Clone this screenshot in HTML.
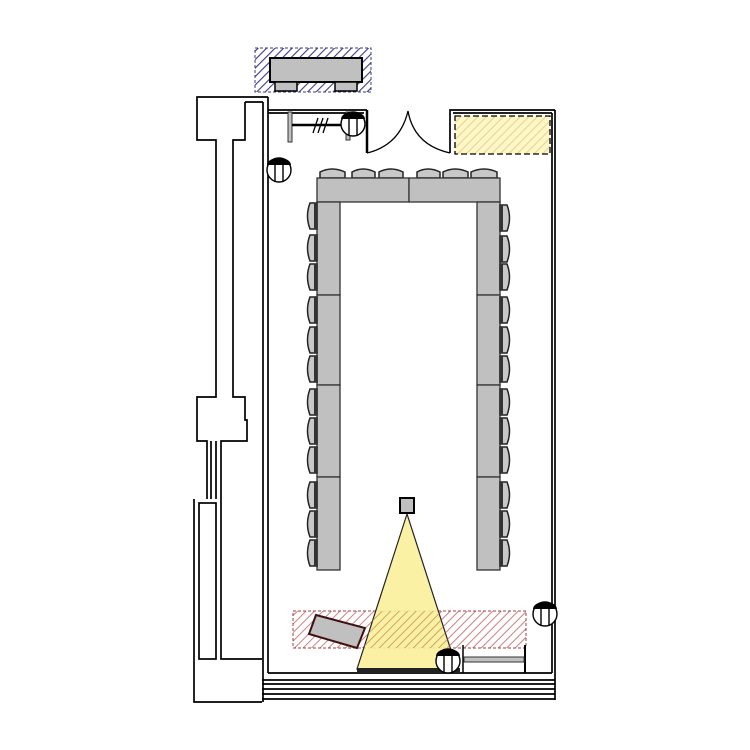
<!DOCTYPE html>
<html><head><meta charset="utf-8"><style>html,body{margin:0;padding:0;background:#fff}svg{display:block}</style></head>
<body>
<svg width="750" height="750" viewBox="0 0 750 750" xmlns="http://www.w3.org/2000/svg">
<defs>
<pattern id="blue" width="6" height="6" patternUnits="userSpaceOnUse" patternTransform="rotate(45)"><rect width="6" height="6" fill="#fff"/><line x1="0" y1="0" x2="0" y2="6" stroke="#3a3a8a" stroke-width="2.2"/></pattern>
<pattern id="yel" width="6" height="6" patternUnits="userSpaceOnUse" patternTransform="rotate(45)"><rect width="6" height="6" fill="#fdf6c8"/><line x1="0" y1="0" x2="0" y2="6" stroke="#dcc870" stroke-width="1.5"/></pattern>
<pattern id="red" width="6" height="6" patternUnits="userSpaceOnUse" patternTransform="rotate(45)"><rect width="6" height="6" fill="#fff"/><line x1="0" y1="0" x2="0" y2="6" stroke="#d08080" stroke-width="2"/></pattern>
<pattern id="ovl" width="6" height="6" patternUnits="userSpaceOnUse" patternTransform="rotate(45)"><line x1="0" y1="0" x2="0" y2="6" stroke="#c89050" stroke-width="1.5"/></pattern>
<g id="chairL"><path d="M317,0 L310,0 Q305,13 310,26 L317,26 Z" fill="#c8c8c8" stroke="#222" stroke-width="1.5"/><rect x="314" y="0" width="3" height="26" fill="#333"/></g>
<g id="chairR"><path d="M500,0 L507,0 Q512,13 507,26 L500,26 Z" fill="#c8c8c8" stroke="#222" stroke-width="1.5"/><rect x="500" y="0" width="3" height="26" fill="#333"/></g>
<g id="clock"><circle cx="0" cy="0" r="12" fill="#fff" stroke="#000" stroke-width="1.4"/><path d="M-12,0 A12,12 0 0 1 12,0 Z" fill="#000" transform="translate(0,-5) scale(1,0.6)"/><line x1="-4" y1="-7" x2="-4" y2="11" stroke="#000" stroke-width="1.4"/><line x1="4" y1="-7" x2="4" y2="11" stroke="#000" stroke-width="1.4"/></g>
</defs>

<rect x="255" y="48" width="116" height="44" fill="url(#blue)" stroke="#3a3a8a" stroke-dasharray="3,2"/>
<rect x="270" y="58" width="92" height="24" fill="#c0c0c0" stroke="#000" stroke-width="2"/>
<rect x="275" y="82" width="22" height="9" fill="#c0c0c0" stroke="#000" stroke-width="1.5"/>
<rect x="335" y="82" width="22" height="9" fill="#c0c0c0" stroke="#000" stroke-width="1.5"/>

<g fill="none" stroke="#000" stroke-width="1.7">
<path d="M268,97 L197,97 L197,140 L216,140 L216,397 L197,397 L197,441 L207,441 L207,499"/>
<path d="M245,102 L263,102 M245,102 L245,140 L233,140 L233,397 L245,397 L245,420 L247,420 L247,441 L221,441 L221,499"/>
<path d="M211,441 L211,499 M216,441 L216,499"/>
<rect x="199" y="503" width="17" height="156"/>
<path d="M194,499 L194,702 L262,702 M221,499 L221,659 L262,659"/>
<path d="M263,102 L263,702 M268,97 L268,673"/>
<path d="M268,110 L367,110 M268,113 L364,113"/>
<path d="M367,110 L367,153" stroke-width="2.5"/>
<path d="M450,153 L450,110 L555,110 M453,113 L552,113"/>
<path d="M367,153 Q400,145 408,111 Q414,145 450,153" stroke-width="1.3"/>
<path d="M555,110 L555,700 M552,113 L552,673"/>
<path d="M268,673 L552,673 M262,680 L555,680 M262,684 L555,684 M262,689 L555,689 M262,694 L555,694 M262,699 L555,699"/>
</g>

<rect x="288" y="112" width="4" height="30" fill="#c0c0c0" stroke="#333"/>
<rect x="346" y="112" width="4" height="28" fill="#c0c0c0" stroke="#333"/>
<line x1="292" y1="125" x2="346" y2="125" stroke="#000" stroke-width="2.5"/>
<path d="M313,133 L318,118 M318,133 L323,118 M323,133 L328,118" stroke="#000" stroke-width="1.3"/>

<rect x="455" y="116" width="95" height="38" fill="url(#yel)" stroke="#000" stroke-width="1.3" stroke-dasharray="6,3"/>

<use href="#clock" transform="translate(353,124)"/>
<use href="#clock" transform="translate(279,170)"/>
<use href="#clock" transform="translate(545,614)"/>

<g fill="#c8c8c8" stroke="#222" stroke-width="1.5">
<path d="M320,178 L320,172 Q332,166 345,172 L345,178 Z"/>
<path d="M352,178 L352,172 Q363,166 375,172 L375,178 Z"/>
<path d="M379,178 L379,172 Q391,166 403,172 L403,178 Z"/>
<path d="M417,178 L417,172 Q428,166 440,172 L440,178 Z"/>
<path d="M443,178 L443,172 Q455,166 468,172 L468,178 Z"/>
<path d="M471,178 L471,172 Q484,166 497,172 L497,178 Z"/>
</g>

<g fill="#c0c0c0" stroke="#333" stroke-width="1.3">
<rect x="317" y="178" width="92" height="24"/>
<rect x="409" y="178" width="91" height="24"/>
<rect x="317" y="202" width="23" height="93"/>
<rect x="317" y="295" width="23" height="90"/>
<rect x="317" y="385" width="23" height="92"/>
<rect x="317" y="477" width="23" height="93"/>
<rect x="477" y="202" width="23" height="93"/>
<rect x="477" y="295" width="23" height="90"/>
<rect x="477" y="385" width="23" height="92"/>
<rect x="477" y="477" width="23" height="93"/>
</g>

<g>
<use href="#chairL" y="203"/><use href="#chairL" y="235"/><use href="#chairL" y="264"/>
<use href="#chairL" y="297"/><use href="#chairL" y="327"/><use href="#chairL" y="356"/>
<use href="#chairL" y="389"/><use href="#chairL" y="418"/><use href="#chairL" y="447"/>
<use href="#chairL" y="482"/><use href="#chairL" y="511"/><use href="#chairL" y="540"/>
<use href="#chairR" y="205"/><use href="#chairR" y="236"/><use href="#chairR" y="264"/>
<use href="#chairR" y="297"/><use href="#chairR" y="327"/><use href="#chairR" y="356"/>
<use href="#chairR" y="389"/><use href="#chairR" y="418"/><use href="#chairR" y="447"/>
<use href="#chairR" y="482"/><use href="#chairR" y="511"/><use href="#chairR" y="540"/>
</g>

<rect x="293" y="611" width="233" height="37" fill="url(#red)" stroke="#a04040" stroke-dasharray="3,2"/>
<polygon points="316,615 365,628 357,648 309,634" fill="#c0c0c0" stroke="#401010" stroke-width="2"/>

<polygon points="407,514 357,669 457,669" fill="#fbf09a" fill-opacity="0.9" stroke="#222" stroke-width="1.2"/>
<clipPath id="tri"><polygon points="407,514 357,669 457,669"/></clipPath>
<rect x="293" y="611" width="233" height="37" fill="url(#ovl)" clip-path="url(#tri)"/>
<rect x="400" y="498" width="14" height="15" fill="#c0c0c0" stroke="#000" stroke-width="2"/>
<rect x="357" y="668" width="103" height="5" fill="#222"/>
<use href="#clock" transform="translate(448,661)"/>

<line x1="463" y1="645" x2="463" y2="673" stroke="#000" stroke-width="1.5"/>
<line x1="525" y1="645" x2="525" y2="673" stroke="#000" stroke-width="2"/>
<rect x="464" y="657" width="60" height="5" fill="#c0c0c0" stroke="#333"/>
</svg>
</body></html>
